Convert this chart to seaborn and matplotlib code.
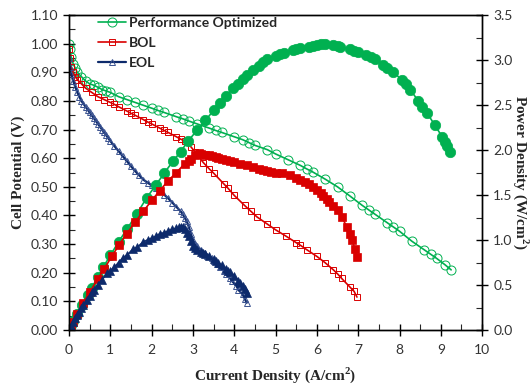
import matplotlib
matplotlib.use("Agg")
import matplotlib.pyplot as plt
import seaborn as sns
from matplotlib.ticker import MultipleLocator, FormatStrFormatter

# Performance Optimized - polarization (open circles)
po_x = [0.0, 0.02, 0.05, 0.1, 0.15, 0.2, 0.3, 0.4, 0.5, 0.6, 0.7, 0.8, 0.9, 1.0, 1.2, 1.4,
        1.6, 1.8, 2.0, 2.15, 2.3, 2.6, 2.75, 2.9, 3.1, 3.4, 3.55, 3.7, 4.0, 4.2, 4.35, 4.5,
        4.8, 5.0, 5.3, 5.6, 5.75, 5.9, 6.2, 6.5, 6.8, 7.1, 7.25, 7.4, 7.7, 7.85, 8.0, 8.3,
        8.6, 8.75, 8.9, 9.1, 9.25]
po_v = [1.00, 0.98, 0.955, 0.93, 0.915, 0.90, 0.885, 0.87, 0.86, 0.855, 0.848, 0.84,
        0.835, 0.83, 0.815, 0.805, 0.795, 0.785, 0.775, 0.767, 0.76, 0.745, 0.738, 0.73,
        0.72, 0.705, 0.697, 0.69, 0.675, 0.665, 0.655, 0.645, 0.63, 0.615, 0.595, 0.575,
        0.563, 0.552, 0.527, 0.50, 0.468, 0.435, 0.42, 0.405, 0.375, 0.36, 0.345, 0.31,
        0.28, 0.265, 0.25, 0.228, 0.21]
# Performance Optimized - power density (filled circles)
po_px = [0.0, 0.05, 0.1, 0.2, 0.31, 0.45, 0.55, 0.7, 0.83, 1.0, 1.2, 1.4, 1.64, 1.88, 2.1,
         2.3, 2.52, 2.7, 2.88, 3.1, 3.3, 3.5, 3.65, 3.8, 3.97, 4.1, 4.2, 4.3, 4.46, 4.6,
         4.7, 4.8, 5.0, 5.1, 5.2, 5.43, 5.5, 5.6, 5.8, 5.9, 6.0, 6.1, 6.2, 6.4, 6.5, 6.56,
         6.8, 6.9, 7.0, 7.2, 7.3, 7.4, 7.6, 7.7, 7.85, 8.05, 8.15, 8.26, 8.45, 8.55, 8.67,
         8.85, 9.03, 9.1, 9.15, 9.22]
po_p = [0.0, 0.05, 0.1, 0.18, 0.28, 0.39, 0.47, 0.59, 0.70, 0.83, 0.98, 1.12, 1.29, 1.47,
        1.61, 1.74, 1.88, 1.98, 2.10, 2.22, 2.33, 2.44, 2.52, 2.60, 2.69, 2.73, 2.79, 2.83,
        2.89, 2.94, 2.98, 3.01, 3.05, 3.07, 3.08, 3.11, 3.12, 3.13, 3.15, 3.16, 3.17,
        3.18, 3.18, 3.17, 3.16, 3.15, 3.12, 3.10, 3.09, 3.06, 3.03, 3.01, 2.95, 2.91,
        2.87, 2.78, 2.73, 2.67, 2.55, 2.48, 2.41, 2.28, 2.15, 2.09, 2.05, 1.98]

# BOL - polarization (open squares)
bol_x = [0.0, 0.02, 0.05, 0.1, 0.15, 0.2, 0.3, 0.4, 0.55, 0.7, 0.85, 1.0, 1.1, 1.2, 1.4,
         1.5, 1.6, 1.8, 1.9, 2.0, 2.2, 2.3, 2.4, 2.6, 2.7, 2.8, 2.95, 3.05, 3.1, 3.25,
         3.4, 3.5, 3.75, 3.85, 4.0, 4.25, 4.4, 4.55, 4.8, 5.0, 5.25, 5.5, 5.6, 5.76, 6.0,
         6.2, 6.4, 6.5, 6.6, 6.8, 6.9, 6.97]
bol_v = [0.98, 0.95, 0.92, 0.90, 0.885, 0.875, 0.86, 0.845, 0.83, 0.815, 0.805, 0.795,
         0.788, 0.78, 0.765, 0.757, 0.75, 0.735, 0.727, 0.72, 0.705, 0.697, 0.69, 0.675,
         0.667, 0.66, 0.64, 0.622, 0.612, 0.585, 0.562, 0.548, 0.51, 0.495, 0.47, 0.435,
         0.415, 0.395, 0.37, 0.35, 0.328, 0.305, 0.296, 0.28, 0.257, 0.235, 0.21, 0.196,
         0.18, 0.15, 0.135, 0.115]
# BOL - power density (filled squares)
bol_px = [0.0, 0.05, 0.1, 0.2, 0.34, 0.5, 0.7, 0.85, 1.04, 1.2, 1.4, 1.6, 1.8, 2.0, 2.2,
          2.4, 2.6, 2.8, 2.9, 2.95, 3.05, 3.15, 3.2, 3.3, 3.4, 3.45, 3.55, 3.6, 3.7, 3.8,
          3.9, 4.0, 4.15, 4.3, 4.45, 4.6, 4.7, 4.8, 4.9, 5.0, 5.15, 5.35, 5.5, 5.6, 5.7,
          5.8, 5.9, 6.0, 6.1, 6.15, 6.25, 6.3, 6.4, 6.5, 6.6, 6.73, 6.8, 6.85, 6.92, 6.97]
bol_p = [0.0, 0.05, 0.09, 0.18, 0.30, 0.42, 0.57, 0.68, 0.82, 0.94, 1.07, 1.2, 1.32, 1.44,
         1.55, 1.66, 1.75, 1.85, 1.88, 1.90, 1.95, 1.97, 1.96, 1.95, 1.94, 1.93, 1.92,
         1.91, 1.90, 1.89, 1.88, 1.87, 1.85, 1.83, 1.81, 1.79, 1.78, 1.77, 1.76, 1.75,
         1.74, 1.72, 1.69, 1.67, 1.65, 1.62, 1.59, 1.56, 1.52, 1.49, 1.46, 1.42, 1.38,
         1.33, 1.26, 1.14, 1.07, 1.0, 0.9, 0.81]

# EOL - polarization (open triangles)
eol_x = [0.0, 0.02, 0.05, 0.1, 0.15, 0.2, 0.25, 0.3, 0.35, 0.4, 0.45, 0.5, 0.55, 0.6,
         0.65, 0.7, 0.75, 0.8, 0.85, 0.9, 0.95, 1.0, 1.1, 1.2, 1.3, 1.4, 1.5, 1.6, 1.7,
         1.8, 1.9, 2.0, 2.1, 2.2, 2.3, 2.4, 2.5, 2.6, 2.7, 2.75, 2.8, 2.85, 2.9, 2.95,
         3.0, 3.05, 3.1, 3.2, 3.3, 3.35, 3.45, 3.5, 3.6, 3.65, 3.75, 3.8, 3.9, 3.95, 4.05,
         4.1, 4.2, 4.25, 4.3]
eol_v = [0.95, 0.92, 0.895, 0.87, 0.85, 0.83, 0.815, 0.80, 0.79, 0.78, 0.77, 0.76, 0.75,
         0.74, 0.73, 0.72, 0.71, 0.70, 0.69, 0.68, 0.67, 0.66, 0.642, 0.625, 0.607, 0.59,
         0.572, 0.555, 0.54, 0.525, 0.515, 0.505, 0.495, 0.485, 0.473, 0.46, 0.445, 0.43,
         0.415, 0.405, 0.392, 0.38, 0.36, 0.335, 0.315, 0.3, 0.292, 0.28, 0.27, 0.26,
         0.25, 0.242, 0.23, 0.22, 0.205, 0.195, 0.18, 0.17, 0.155, 0.14, 0.125, 0.11,
         0.095]
# EOL - power density (filled triangles)
eol_px = [0.0, 0.05, 0.1, 0.15, 0.2, 0.25, 0.3, 0.35, 0.43, 0.5, 0.55, 0.6, 0.7, 0.8,
          0.92, 1.0, 1.1, 1.2, 1.3, 1.4, 1.55, 1.65, 1.8, 1.9, 2.0, 2.1, 2.2, 2.3, 2.4,
          2.5, 2.6, 2.65, 2.7, 2.75, 2.8, 2.85, 2.9, 2.95, 3.0, 3.05, 3.1, 3.2, 3.25, 3.3,
          3.4, 3.5, 3.55, 3.6, 3.7, 3.8, 3.85, 3.9, 4.0, 4.1, 4.15, 4.2, 4.25, 4.31]
eol_p = [0.0, 0.045, 0.087, 0.128, 0.166, 0.204, 0.24, 0.275, 0.335, 0.38, 0.42, 0.45,
         0.5, 0.56, 0.63, 0.66, 0.7, 0.75, 0.8, 0.83, 0.9, 0.92, 0.98, 1.0, 1.02, 1.04,
         1.07, 1.08, 1.1, 1.12, 1.13, 1.14, 1.14, 1.15, 1.12, 1.08, 1.05, 0.99, 0.93,
         0.91, 0.89, 0.87, 0.86, 0.85, 0.82, 0.79, 0.77, 0.75, 0.72, 0.68, 0.66, 0.64,
         0.6, 0.55, 0.52, 0.49, 0.46, 0.41]

green = "#00B050"
red = "#D90000"
navy = "#0D2A6B"

sns.set_style("white")
plt.rcParams["font.family"] = ["Lato", "DejaVu Sans"]

fig = plt.figure(figsize=(5.31, 3.88), dpi=100)
ax = fig.add_axes([0.130, 0.1495, 0.778, 0.8115])
ax2 = ax.twinx()

# polarization curves (left axis)
sns.lineplot(x=po_x, y=po_v, ax=ax, sort=False, estimator=None, color=green, lw=1.2,
             marker="o", markersize=6.5, markerfacecolor="none", markeredgecolor=green,
             markeredgewidth=0.7, label="Performance Optimized")
sns.lineplot(x=bol_x, y=bol_v, ax=ax, sort=False, estimator=None, color=red, lw=1.2,
             marker="s", markersize=5, markerfacecolor="none", markeredgecolor=red,
             markeredgewidth=0.7, label="BOL")
sns.lineplot(x=eol_x, y=eol_v, ax=ax, sort=False, estimator=None, color=navy, lw=1.6,
             marker="^", markersize=5, markerfacecolor="none", markeredgecolor="#3A5290",
             markeredgewidth=0.7, label="EOL")

# power density curves (right axis)
sns.lineplot(x=po_px, y=po_p, ax=ax2, sort=False, estimator=None, color=green, lw=1.2,
             marker="o", markersize=7.5, markerfacecolor=green, markeredgecolor=green,
             markeredgewidth=0.5, legend=False)
sns.lineplot(x=bol_px, y=bol_p, ax=ax2, sort=False, estimator=None, color=red, lw=1.2,
             marker="s", markersize=6, markerfacecolor=red, markeredgecolor=red,
             markeredgewidth=0.5, legend=False)
sns.lineplot(x=eol_px, y=eol_p, ax=ax2, sort=False, estimator=None, color=navy, lw=1.2,
             marker="^", markersize=6, markerfacecolor=navy, markeredgecolor=navy,
             markeredgewidth=0.5, legend=False)

ax.set_xlim(0, 10)
ax.set_ylim(0, 1.10)
ax2.set_ylim(0, 3.5)

ax.xaxis.set_major_locator(MultipleLocator(1))
ax.xaxis.set_minor_locator(MultipleLocator(0.5))
ax.yaxis.set_major_locator(MultipleLocator(0.1))
ax.yaxis.set_minor_locator(MultipleLocator(0.05))
ax.yaxis.set_major_formatter(FormatStrFormatter("%.2f"))
ax2.yaxis.set_major_locator(MultipleLocator(0.5))
ax2.yaxis.set_minor_locator(MultipleLocator(0.25))
ax2.yaxis.set_major_formatter(FormatStrFormatter("%.1f"))

for a in (ax, ax2):
    a.tick_params(which="major", direction="inout", length=8, width=1.0,
                  labelsize=10, colors="black", labelcolor="#333333")
    a.tick_params(which="minor", direction="in", length=4, width=0.8)
    for s in a.spines.values():
        s.set_color("black")
        s.set_linewidth(1.0)
ax.tick_params(axis="y", which="both", left=True, right=False, pad=4)
ax.tick_params(axis="x", which="both", bottom=True, top=False, pad=6)
ax2.tick_params(axis="y", which="both", right=True, left=False, pad=4)

lab_font = {"family": "Liberation Serif", "weight": "bold", "size": 11}
ax.set_xlabel("Current Density (A/cm$^\\mathregular{2}$)", fontdict=lab_font, labelpad=7)
ax.set_ylabel("Cell Potential (V)", fontdict=lab_font, labelpad=4)
ax2.set_ylabel("Power Density (W/cm$^\\mathregular{2}$)", fontdict=lab_font,
               rotation=270, labelpad=13)

leg = ax.legend(loc="upper left", bbox_to_anchor=(0.04, 1.035), frameon=False,
                handlelength=2.0, handletextpad=0.25, labelspacing=0.6,
                prop={"family": "Lato", "weight": "bold", "size": 10})

fig.savefig("out.png", dpi=100)
